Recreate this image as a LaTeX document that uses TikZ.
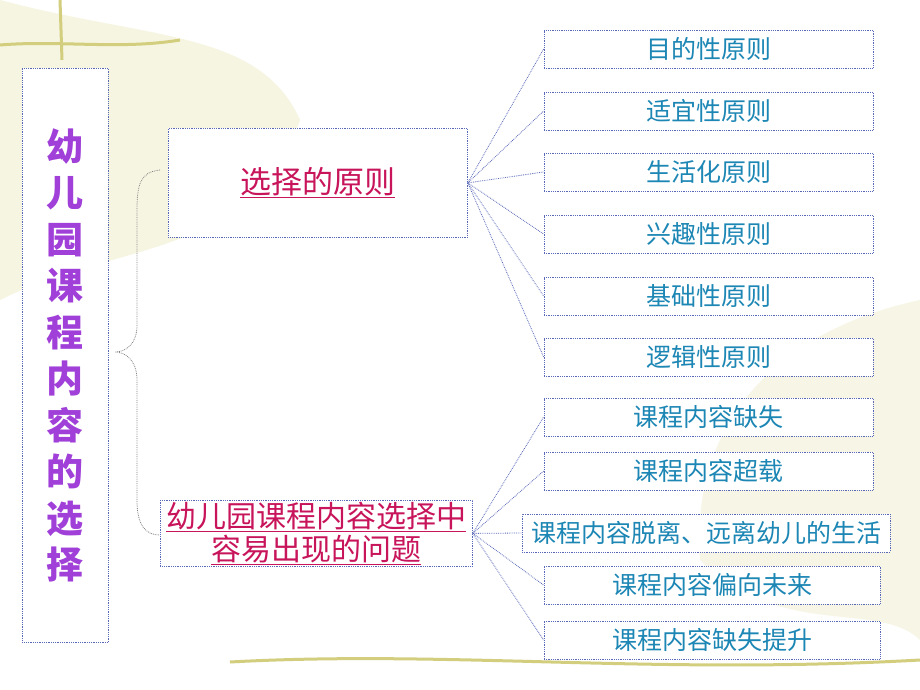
\documentclass[tikz,border=0pt]{standalone}
\usepackage{fontspec}
\newfontfamily\cjk{Noto Sans CJK SC}
\usetikzlibrary{decorations.pathreplacing}
\definecolor{bord}{HTML}{5A68B8}
\definecolor{tealt}{HTML}{1C86B4}
\definecolor{redt}{HTML}{C8145A}
\definecolor{purp}{HTML}{A040D8}
\tikzset{x=1pt,y=-1pt,
 rbox/.style={draw=bord,densely dotted,line width=0.8pt,fill=white,minimum height=38pt,inner sep=0pt,font=\cjk\fontsize{25}{27}\selectfont,text=tealt},
 link/.style={draw=bord,densely dotted,line width=0.8pt}}
\begin{document}
\begin{tikzpicture}
\useasboundingbox (0,0) rectangle (920,690);
\fill[white] (0,0) rectangle (920,690);
% faint background decoration
\fill[olive!8] (0,0) .. controls (150,40) and (260,30) .. (300,120) .. controls (250,260) and (120,240) .. (0,300) -- cycle;
\fill[olive!7] (920,300) .. controls (780,330) and (690,420) .. (700,560) .. controls (780,640) and (880,600) .. (920,640) -- cycle;
\draw[olive!40,line width=3pt] (230,662) .. controls (450,650) and (650,675) .. (920,660);
\draw[olive!40,line width=3pt] (0,45) .. controls (60,40) and (120,50) .. (180,40);
\draw[olive!40,line width=3pt] (60,0) -- (62,60);
% left box
\node[draw=bord,densely dotted,line width=0.8pt,minimum width=86pt,minimum height=574pt,anchor=north west,inner sep=0pt,fill=white] (L) at (22,68) {};
\node[text=purp,font=\cjk\bfseries\fontsize{37}{46.5}\selectfont,align=center] (Lt) at (L.center) {幼\\儿\\园\\课\\程\\内\\容\\的\\选\\择};
% brace
\coordinate (b1) at (160,170);
\coordinate (b2) at (160,535);
\coordinate (bm) at (115,352);
\draw[gray,densely dotted,line width=0.8pt] (b1) .. controls (140,172) and (137,185) .. (137,210) -- (137,325) .. controls (137,345) and (125,352) .. (bm) .. controls (125,352) and (137,360) .. (137,380) -- (137,500) .. controls (137,525) and (145,535) .. (b2);
% middle boxes
\node[draw=bord,densely dotted,line width=0.8pt,fill=white,minimum width=299pt,minimum height=109pt,anchor=north west,inner sep=0pt] (A) at (168,128) {};
\node[font=\cjk\fontsize{31}{34}\selectfont,text=redt] (At) at (A.center) {\underline{选择的原则}};
\node[draw=bord,densely dotted,line width=0.8pt,fill=white,minimum width=312pt,minimum height=66pt,anchor=north west,inner sep=0pt] (B) at (160,500) {};
\node[font=\cjk\fontsize{30}{33}\selectfont,text=redt,align=center] (Bt) at (B.center) {\underline{幼儿园课程内容选择中}\\\underline{容易出现的问题}};
% right boxes
\foreach \n/\y/\t in {r1/49/目的性原则,r2/111/适宜性原则,r3/172/生活化原则,r4/234/兴趣性原则,r5/296/基础性原则,r6/357/逻辑性原则}{
 \node[rbox,minimum width=329pt] (\n) at (708.5,\y) {\t};
 \draw[link] (A.east) -- (\n.west);
}
\node[rbox,minimum width=329pt] (s1) at (708.5,417) {课程内容缺失};
\node[rbox,minimum width=329pt] (s2) at (708.5,471) {课程内容超载};
\node[rbox,minimum width=368pt] (s3) at (706,533) {课程内容脱离、远离幼儿的生活};
\node[rbox,minimum width=336pt] (s4) at (712,585) {课程内容偏向未来};
\node[rbox,minimum width=336pt] (s5) at (712,640) {课程内容缺失提升};
\foreach \n in {s1,s2,s3,s4,s5}{\draw[link] (B.east) -- (\n.west);}
\end{tikzpicture}
\end{document}
